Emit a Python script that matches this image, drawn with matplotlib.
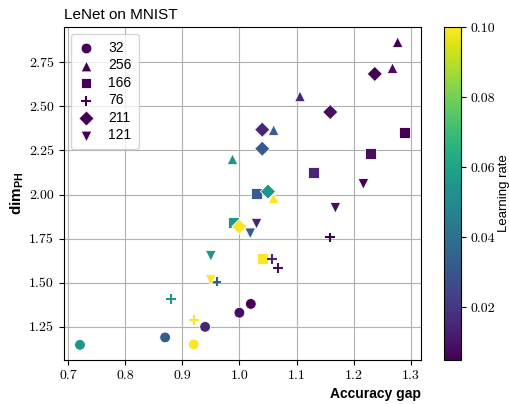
import numpy as np
import matplotlib
matplotlib.use("Agg")
from matplotlib import pyplot as plt
from matplotlib.ticker import FuncFormatter

plt.rcParams['font.family'] = 'sans-serif'
plt.rcParams['font.sans-serif'] = ['Liberation Sans', 'DejaVu Sans']
plt.rcParams['mathtext.fontset'] = 'custom'
plt.rcParams['mathtext.rm'] = 'Liberation Sans'
plt.rcParams['mathtext.bf'] = 'Liberation Sans:bold'

# learning rates used for every model width
lrs = [0.055, 0.032, 0.1, 0.015, 0.008, 0.005]

widths = ["32", "256", "166", "76", "211", "121"]
markers = ["o", "^", "s", "+", "D", "v"]

# accuracy gap / dim_PH per width, same order as lrs
gap = {
    "32":  [0.721, 0.870, 0.920, 0.940, 1.000, 1.020],
    "256": [0.988, 1.060, 1.060, 1.106, 1.268, 1.277],
    "166": [0.990, 1.030, 1.040, 1.130, 1.230, 1.289],
    "76":  [0.880, 0.960, 0.920, 1.057, 1.068, 1.158],
    "211": [1.050, 1.040, 1.000, 1.040, 1.159, 1.237],
    "121": [0.950, 1.019, 0.950, 1.030, 1.168, 1.217],
}
dim_ph = {
    "32":  [1.148, 1.190, 1.150, 1.250, 1.330, 1.380],
    "256": [2.200, 2.365, 1.980, 2.557, 2.717, 2.864],
    "166": [1.840, 2.004, 1.638, 2.125, 2.235, 2.350],
    "76":  [1.410, 1.507, 1.288, 1.635, 1.583, 1.757],
    "211": [2.017, 2.260, 1.818, 2.368, 2.468, 2.684],
    "121": [1.653, 1.780, 1.515, 1.835, 1.925, 2.060],
}

fig = plt.figure(figsize=(5.1, 4.04), dpi=100)
ax = fig.add_axes([0.125, 0.109, 0.700, 0.824])
cax = fig.add_axes([0.871, 0.109, 0.033, 0.824])

vmin, vmax = min(lrs), max(lrs)
sc = None
for w, m in zip(widths, markers):
    if m == "+":
        sc = ax.scatter(gap[w], dim_ph[w], c=lrs, cmap="viridis", vmin=vmin, vmax=vmax,
                        marker=m, s=50, linewidths=1.5, zorder=3)
    else:
        sc = ax.scatter(gap[w], dim_ph[w], c=lrs, cmap="viridis", vmin=vmin, vmax=vmax,
                        marker=m, s=60, edgecolors="white", linewidths=0.6, zorder=3)

# legend with dark markers
dark = plt.get_cmap("viridis")(0.0)
handles = []
for w, m in zip(widths, markers):
    if m == "+":
        h = ax.scatter([], [], marker=m, color=dark, s=50, linewidths=1.5)
    else:
        h = ax.scatter([], [], marker=m, color=dark, s=60, edgecolors="white", linewidths=0.6)
    handles.append(h)
ax.legend(handles, widths, loc="upper left", fontsize=10, handlelength=1.2,
          handletextpad=1.0, labelspacing=0.25, borderpad=0.5)

ax.grid(True, color="#b0b0b0", linewidth=0.8)
ax.set_axisbelow(True)
ax.set_xticks([0.7, 0.8, 0.9, 1.0, 1.1, 1.2, 1.3])
ax.set_yticks([1.25, 1.5, 1.75, 2.0, 2.25, 2.5, 2.75])
ax.xaxis.set_major_formatter(FuncFormatter(lambda v, p: "%.1f" % v))
ax.yaxis.set_major_formatter(FuncFormatter(lambda v, p: "%.2f" % v))
for lab in ax.get_xticklabels() + ax.get_yticklabels():
    lab.set_fontfamily("cmr10")
    lab.set_fontsize(10)

ax.set_title("LeNet on MNIST", loc="left", fontsize=11)
ax.set_xlabel("Accuracy gap", loc="right", fontsize=10, fontweight="bold")
ax.set_ylabel(r"$\mathbf{dim}_{\mathbf{PH}}$", fontsize=11, labelpad=2)

cb = fig.colorbar(sc, cax=cax)
cb.set_ticks([0.02, 0.04, 0.06, 0.08, 0.10])
cb.ax.yaxis.set_major_formatter(FuncFormatter(lambda v, p: "%.2f" % v))
for lab in cb.ax.get_yticklabels():
    lab.set_fontfamily("cmr10")
    lab.set_fontsize(10)
cb.set_label("Learning rate", fontsize=9.5, labelpad=2)
cb.outline.set_linewidth(0.8)

fig.savefig("out.png", dpi=100)
